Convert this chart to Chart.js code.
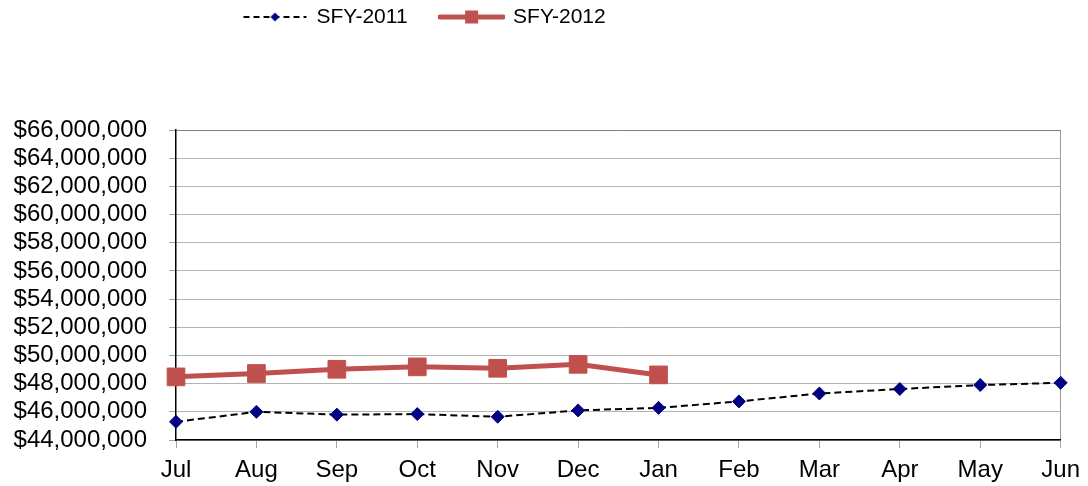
<!DOCTYPE html>
<html>
<head>
<meta charset="utf-8">
<script src="https://cdn.jsdelivr.net/npm/chart.js@4"></script>
<style>
  html, body { margin: 0; padding: 0; background: #fff; }
  #wrap { width: 1088px; height: 486px; position: relative; }
</style>
</head>
<body>
<div id="wrap"><canvas id="sfyChart"></canvas></div>
<script>
const months = ['Jul', 'Aug', 'Sep', 'Oct', 'Nov', 'Dec', 'Jan', 'Feb', 'Mar', 'Apr', 'May', 'Jun'];
const sfy2011 = [45290000, 46000000, 45800000, 45840000, 45650000, 46100000, 46280000, 46740000, 47300000, 47620000, 47900000, 48060000];
const sfy2012 = [48480000, 48720000, 49020000, 49190000, 49090000, 49370000, 48620000, null, null, null, null, null];
const seriesNames = ['SFY-2011', 'SFY-2012'];
const yMin = 44000000;
const yMax = 66000000;
const yStep = 2000000;

const FONT = '"Liberation Sans", Arial, sans-serif';

// little legend symbols: line with a marker in the middle
function makeIcon(kind) {
    const c = document.createElement('canvas');
    c.width = 67;
    c.height = 16;
    const g = c.getContext('2d');
    g.beginPath();
    if (kind === 'dash') {
        g.setLineDash([6, 4]);
        g.lineWidth = 2;
        g.strokeStyle = '#000';
    } else {
        g.lineWidth = 5;
        g.strokeStyle = '#C0504D';
        g.lineCap = 'round';
    }
    g.moveTo(2, 8);
    g.lineTo(65, 8);
    g.stroke();
    g.setLineDash([]);
    if (kind === 'dash') {
        g.fillStyle = '#000080';
        g.beginPath();
        g.moveTo(33.5, 3.5);
        g.lineTo(38, 8);
        g.lineTo(33.5, 12.5);
        g.lineTo(29, 8);
        g.closePath();
        g.fill();
    } else {
        g.fillStyle = '#C0504D';
        g.fillRect(27, 1.5, 13, 13);
    }
    return c;
}
const legendIcons = [makeIcon('dash'), makeIcon('solid')];

// move the legend to where the original had it
const legendPlace = {
    id: 'legendPlace',
    afterLayout(chart) {
        const lg = chart.legend;
        if (!lg) return;
        const pad = lg.options.labels.padding;
        const h = lg.bottom - lg.top;
        lg.left = 244 - pad;
        lg.top = 19 - pad - 12.5;
        lg.bottom = lg.top + h;
    }
};

const ctx = document.getElementById('sfyChart').getContext('2d');

new Chart(ctx, {
    type: 'line',
    data: {
        labels: months,
        datasets: [
            {
                label: seriesNames[0],
                data: sfy2011,
                borderColor: '#000',
                borderWidth: 2,
                borderDash: [7, 4],
                pointStyle: 'rectRot',
                pointRadius: 6.5,
                pointBorderWidth: 1,
                pointBackgroundColor: '#000080',
                pointBorderColor: '#000080',
                fill: false,
                tension: 0,
                clip: false
            },
            {
                label: seriesNames[1],
                data: sfy2012,
                borderColor: '#C0504D',
                borderWidth: 5,
                pointStyle: 'rect',
                pointRadius: 12.5,
                pointBorderWidth: 1,
                pointBackgroundColor: '#C0504D',
                pointBorderColor: '#C0504D',
                fill: false,
                tension: 0,
                clip: false,
                spanGaps: false
            }
        ]
    },
    options: {
        responsive: true,
        maintainAspectRatio: false,
        animation: false,
        layout: {
            padding: { top: 66, right: 26, bottom: 0, left: 0 }
        },
        scales: {
            x: {
                type: 'category',
                offset: false,
                grid: {
                    color: (c) => c.index === months.length - 1 ? '#9A9A9A' : 'rgba(0,0,0,0)',
                    tickColor: '#A6A6A6',
                    tickLength: 8,
                    lineWidth: 1
                },
                border: { color: '#000', width: 1.5 },
                ticks: {
                    color: '#000',
                    font: { family: FONT, size: 24 },
                    padding: 8,
                    autoSkip: false,
                    maxRotation: 0
                },
                afterFit(scale) { scale.height = 46; }
            },
            y: {
                type: 'linear',
                min: yMin,
                max: yMax,
                grid: {
                    color: (c) => c.tick && c.tick.value === yMax ? '#808080' : '#B3B3B3',
                    tickColor: '#A6A6A6',
                    tickLength: 7,
                    lineWidth: 1
                },
                border: { color: '#000', width: 1.5 },
                ticks: {
                    stepSize: yStep,
                    autoSkip: false,
                    color: '#000',
                    font: { family: FONT, size: 24, lineHeight: 1 },
                    padding: 22,
                    callback: (v) => '$' + Number(v).toLocaleString('en-US')
                },
                afterFit(scale) { scale.width = 176; }
            }
        },
        plugins: {
            legend: {
                display: true,
                position: 'top',
                align: 'start',
                labels: {
                    color: '#000',
                    font: { family: FONT, size: 21 },
                    usePointStyle: true,
                    pointStyleWidth: 62,
                    padding: 33,
                    generateLabels(chart) {
                        const items = Chart.defaults.plugins.legend.labels.generateLabels(chart);
                        items.forEach((it) => { it.pointStyle = legendIcons[it.datasetIndex]; });
                        return items;
                    }
                }
            },
            tooltip: { enabled: false }
        }
    },
    plugins: [legendPlace]
});
</script>
</body>
</html>
